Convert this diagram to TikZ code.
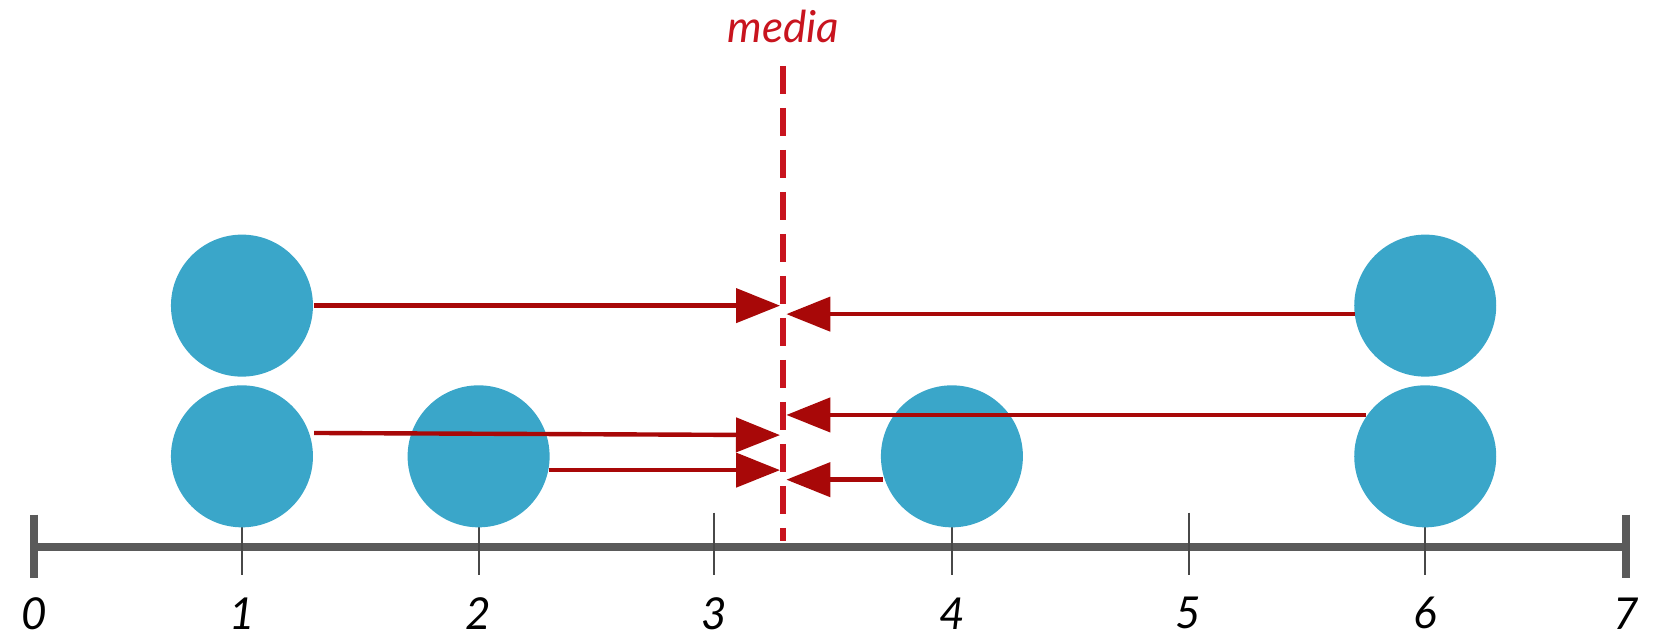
\documentclass[tikz,border=0pt]{standalone}
\usepackage{fontspec}
\setmainfont{Lato}
\usetikzlibrary{arrows.meta}
\definecolor{dred}{HTML}{A80808}
\definecolor{mred}{HTML}{C8141E}
\definecolor{ball}{HTML}{3AA6C9}
\definecolor{axg}{HTML}{5A5A5A}
\tikzset{
  ball/.style={circle,fill=ball,minimum size=71pt,inner sep=0pt},
  arr/.style={draw=dred,line width=2.2pt,-{Triangle[length=22pt,width=17pt]}},
  lab/.style={font=\itshape\fontsize{22}{24}\selectfont,text=black},
}
\begin{document}
\begin{tikzpicture}[x=0.5306pt,y=-0.5306pt]
\useasboundingbox (0,0) rectangle (1568,603);
% axis
\draw[axg,line width=4pt] (32,515) -- (1532,515);
\draw[axg,line width=4pt] (32,485) -- (32,545);
\draw[axg,line width=4pt] (1532,485) -- (1532,545);
\foreach \x in {228,451,673,897,1120,1343}
  \draw[axg!80!black,line width=1pt] (\x,483) -- (\x,542);
\foreach \x/\t in {32/0,228/1,451/2,673/3,897/4,1120/5,1343/6,1532/7}
  \node[lab] (l\t) at (\x,578) {\t};
% balls
\node[ball] (a) at (228,288) {};
\node[ball] (b) at (228,430) {};
\node[ball] (c) at (451,430) {};
\node[ball] (d) at (897,430) {};
\node[ball] (e) at (1343,288) {};
\node[ball] (f) at (1343,430) {};
% median
\draw[mred,line width=3.3pt,dash pattern=on 14pt off 7pt] (738,62) -- (738,510);
\node[font=\itshape\fontsize{22}{24}\selectfont,text=mred] (m) at (738,25) {media};
% arrow targets
\coordinate (t1) at (735,288);
\coordinate (t2) at (741,296);
\coordinate (t3) at (735,410);
\coordinate (t4) at (741,391);
\coordinate (t5) at (735,443);
\coordinate (t6) at (741,452);
\draw[arr] (296,288) -- (t1);
\draw[arr] (1277,296) -- (t2);
\draw[arr] (296,408) -- (t3);
\draw[arr] (1287,391) -- (t4);
\draw[arr] (517,443) -- (t5);
\draw[arr] (832,452) -- (t6);
\end{tikzpicture}
\end{document}
